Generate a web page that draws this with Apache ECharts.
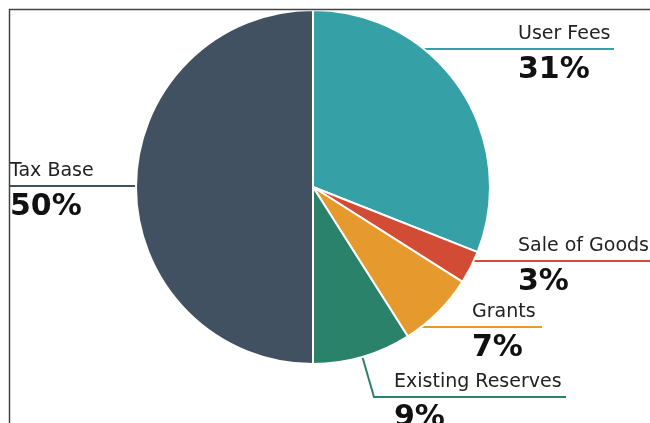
<!DOCTYPE html>
<html><head><meta charset="utf-8">
<script src="https://cdn.jsdelivr.net/npm/echarts@6/dist/echarts.min.js"></script>
<style>html,body{margin:0;padding:0;background:#fff}#c{width:650px;height:423px}</style>
</head><body><div id="c"></div>
<script>
const categories = ['User Fees', 'Sale of Goods', 'Grants', 'Existing Reserves', 'Tax Base'];
const values = [31, 3, 7, 9, 50];
const colors = ['#35a1a7', '#d24b35', '#e69a2e', '#2a826b', '#415162'];

// styling / geometry
const CX = 313, CY = 187, R = 177;
const labelGeo = [
  { dy: -138, tx: 518, ex: 614 },
  { dy: 74, tx: 518, ex: 660 },
  { dy: 140, tx: 472, ex: 542 },
  { dy: 210, tx: 394, ex: 566, radial: true },
  { dy: -1, tx: 10, ex: 10, left: true }
];

const chart = echarts.init(document.getElementById('c'), null, { renderer: 'canvas' });
const total = values.reduce((a, b) => a + b, 0);

chart.setOption({
  animation: false,
  backgroundColor: '#fff',
  graphic: [{
    type: 'rect', silent: true, z: 100,
    shape: { x: 9.5, y: 9.5, width: 800, height: 600 },
    style: { fill: 'none', stroke: '#444', lineWidth: 1.5 }
  }],
  series: [{
    type: 'pie',
    center: [CX, CY],
    radius: R,
    startAngle: 90,
    clockwise: true,
    avoidLabelOverlap: false,
    emphasis: { disabled: true },
    itemStyle: { borderColor: '#fff', borderWidth: 2 },
    data: categories.map((n, i) => ({ name: n, value: values[i], itemStyle: { color: colors[i] } })),
    label: {
      show: true,
      position: 'outside',
      formatter: '{n|{b}}\n{v|{c}%}',
      rich: {
        n: { fontSize: 19, fontFamily: 'DejaVu Sans', color: '#222', lineHeight: 30 },
        v: { fontSize: 30, fontFamily: 'DejaVu Sans', fontWeight: 'bold', color: '#111', lineHeight: 42 }
      }
    },
    labelLine: { show: true, lineStyle: { width: 2 } },
    labelLayout: function (p) {
      const g = labelGeo[p.dataIndex];
      const ly = CY + g.dy;
      let pts;
      if (g.radial) {
        let before = 0;
        for (let k = 0; k < p.dataIndex; k++) before += values[k];
        const a = (before + values[p.dataIndex] / 2) / total * 2 * Math.PI;
        const sx = CX + R * Math.sin(a), sy = CY - R * Math.cos(a);
        const t = (ly - sy) / (-Math.cos(a));
        const bx = sx + t * Math.sin(a);
        pts = [[sx, sy], [bx, ly], [g.ex, ly]];
      } else {
        const hx = Math.sqrt(R * R - g.dy * g.dy);
        const sx = g.left ? CX - hx : CX + hx;
        pts = [[sx, ly], [(sx + g.ex) / 2, ly], [g.ex, ly]];
      }
      return { x: g.tx, y: ly - 30, align: 'left', verticalAlign: 'top', labelLinePoints: pts };
    }
  }]
});
</script>
</body></html>
